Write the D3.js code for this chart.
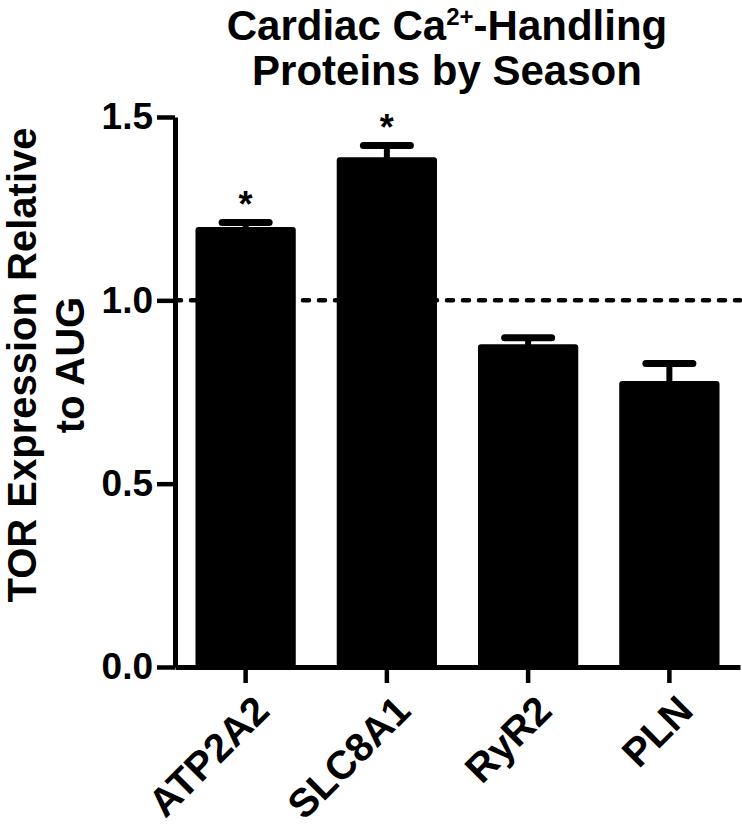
<!DOCTYPE html>
<html>
<head>
<meta charset="utf-8">
<script src="https://cdn.jsdelivr.net/npm/d3@7"></script>
<style>
  body { margin: 0; background: #fff; }
  svg text { font-family: "Liberation Sans", Arial, sans-serif; font-weight: bold; fill: #000; }
</style>
</head>
<body>
<div id="chart"></div>
<script>
const proteins = ['ATP2A2', 'SLC8A1', 'RyR2', 'PLN'];
const ratio    = [1.20, 1.39, 0.88, 0.78];
const sem      = [0.012, 0.032, 0.018, 0.048];
const signif   = [true, true, false, false];
const yTicks   = [0, 0.5, 1.0, 1.5];

const W = 742, H = 831;
const margin = { top: 117, right: 2, bottom: 164, left: 175 };
const width  = W - margin.left - margin.right;
const height = H - margin.top - margin.bottom;

const svg = d3.select('#chart').append('svg')
  .attr('width', W).attr('height', H);

const g = svg.append('g')
  .attr('transform', `translate(${margin.left},${margin.top})`);

const x = d3.scaleBand().domain(proteins).range([0, width])
  .paddingInner(0.29).paddingOuter(0.145);
const y = d3.scaleLinear().domain([0, 1.5]).range([height, 0]);

const rows = proteins.map((p, i) => ({ p, v: ratio[i], e: sem[i], s: signif[i] }));

// bars
g.selectAll('.bar').data(rows).enter().append('rect')
  .attr('class', 'bar')
  .attr('x', d => x(d.p))
  .attr('y', d => y(d.v))
  .attr('width', x.bandwidth())
  .attr('height', d => height - y(d.v))
  .attr('rx', 3)
  .attr('fill', '#000');

// error bars (upper only)
const capW = 54, capT = 7;
g.selectAll('.stem').data(rows).enter().append('line')
  .attr('x1', d => x(d.p) + x.bandwidth() / 2)
  .attr('x2', d => x(d.p) + x.bandwidth() / 2)
  .attr('y1', d => y(d.v) + 2)
  .attr('y2', d => y(d.v + d.e))
  .attr('stroke', '#000').attr('stroke-width', 6);
g.selectAll('.cap').data(rows).enter().append('line')
  .attr('x1', d => x(d.p) + x.bandwidth() / 2 - (capW - capT) / 2)
  .attr('x2', d => x(d.p) + x.bandwidth() / 2 + (capW - capT) / 2)
  .attr('y1', d => y(d.v + d.e))
  .attr('y2', d => y(d.v + d.e))
  .attr('stroke', '#000').attr('stroke-width', capT).attr('stroke-linecap', 'round');

// significance stars
g.selectAll('.star').data(rows.filter(d => d.s)).enter().append('text')
  .attr('x', d => x(d.p) + x.bandwidth() / 2)
  .attr('y', d => y(d.v + d.e) - 6)
  .attr('text-anchor', 'middle')
  .style('font-size', '36px')
  .text('*');

// reference line at 1.0
g.append('line')
  .attr('x1', 0).attr('x2', width)
  .attr('y1', y(1)).attr('y2', y(1))
  .attr('stroke', '#000').attr('stroke-width', 4.5)
  .attr('stroke-dasharray', '6,10').attr('stroke-linecap', 'round');

// axes
const yAxis = g.append('g')
  .call(d3.axisLeft(y).tickValues(yTicks).tickFormat(d3.format('.1f')).tickSize(18).tickSizeOuter(0).tickPadding(4));
const xAxis = g.append('g')
  .attr('transform', `translate(0,${height})`)
  .call(d3.axisBottom(x).tickSize(16).tickSizeOuter(0).tickFormat(''));

[yAxis, xAxis].forEach(a => {
  a.select('.domain').attr('stroke-width', 5).attr('stroke', '#000');
  a.selectAll('.tick line').attr('stroke-width', 4.5).attr('stroke', '#000');
});
yAxis.selectAll('.tick text')
  .style('font-size', '37px').style('font-family', '"Liberation Sans", Arial, sans-serif')
  .style('font-weight', 'bold').attr('fill', '#000');

// rotated category labels
xAxis.selectAll('.cat').data(proteins).enter().append('text')
  .attr('class', 'cat')
  .attr('transform', d => `translate(${x(d) + x.bandwidth() / 2 + 16},${36}) rotate(-45)`)
  .attr('text-anchor', 'end')
  .attr('dy', '0.35em')
  .style('font-size', '40px')
  .text(d => d);

// title
const title = svg.append('text')
  .attr('x', 447).attr('y', 40)
  .attr('text-anchor', 'middle')
  .style('font-size', '42px');
title.append('tspan').text('Cardiac Ca');
title.append('tspan').attr('dy', -15).style('font-size', '24px').text('2+');
title.append('tspan').attr('dy', 15).text('-Handling');
svg.append('text')
  .attr('x', 447).attr('y', 85)
  .attr('text-anchor', 'middle')
  .style('font-size', '42px')
  .text('Proteins by Season');

// y axis title
const yt = svg.append('text')
  .attr('transform', `translate(36,${margin.top + height / 2 - 27}) rotate(-90)`)
  .attr('text-anchor', 'middle')
  .style('font-size', '40px');
yt.append('tspan').attr('x', 0).attr('dy', 0).text('TOR Expression Relative');
yt.append('tspan').attr('x', 0).attr('dy', 48).text('to AUG');
</script>
</body>
</html>
